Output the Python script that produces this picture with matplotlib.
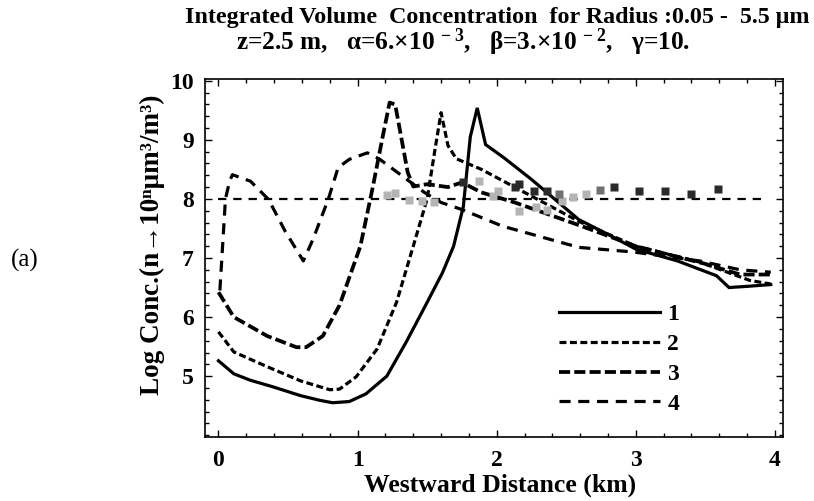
import matplotlib
matplotlib.use("Agg")
import matplotlib.pyplot as plt
from matplotlib.ticker import MultipleLocator

# ---- data ----
x1 = [0.00, 0.11, 0.23, 0.39, 0.59, 0.73, 0.82, 0.94, 1.06, 1.21, 1.35, 1.50, 1.61, 1.69, 1.76, 1.81, 1.86, 1.92, 2.05, 2.25, 2.59, 2.80, 3.00, 3.30, 3.58, 3.67, 3.80, 3.97]
y1 = [5.26, 5.04, 4.93, 4.82, 4.67, 4.59, 4.55, 4.57, 4.70, 5.00, 5.58, 6.25, 6.75, 7.20, 7.87, 9.05, 9.54, 8.92, 8.70, 8.33, 7.65, 7.40, 7.15, 6.95, 6.70, 6.50, 6.52, 6.55]

x2 = [0.00, 0.11, 0.35, 0.59, 0.80, 0.87, 0.99, 1.14, 1.28, 1.40, 1.50, 1.56, 1.60, 1.65, 1.71, 1.89, 2.20, 2.59, 3.00, 3.46, 3.82, 3.97]
y2 = [5.75, 5.41, 5.16, 4.92, 4.77, 4.78, 4.99, 5.46, 6.25, 7.20, 8.00, 8.89, 9.46, 8.90, 8.68, 8.50, 8.11, 7.62, 7.20, 6.93, 6.62, 6.56]

x3 = [0.00, 0.11, 0.35, 0.56, 0.63, 0.75, 0.87, 1.02, 1.11, 1.18, 1.23, 1.27, 1.36, 1.40, 1.50, 1.65, 1.75, 1.89, 2.13, 2.37, 2.61, 3.00, 3.50, 3.75, 3.97]
y3 = [6.42, 6.00, 5.68, 5.49, 5.49, 5.68, 6.20, 7.20, 8.21, 9.05, 9.63, 9.60, 8.45, 8.21, 8.25, 8.20, 8.28, 8.11, 7.94, 7.74, 7.54, 7.20, 6.90, 6.72, 6.72]

x4 = [0.01, 0.05, 0.08, 0.10, 0.23, 0.36, 0.48, 0.61, 0.68, 0.79, 0.86, 0.94, 1.07, 1.16, 1.48, 1.60, 1.75, 2.04, 2.59, 2.99, 3.46, 3.75, 3.97]
y4 = [6.45, 8.00, 8.30, 8.41, 8.30, 7.99, 7.45, 6.95, 7.32, 8.00, 8.53, 8.67, 8.78, 8.67, 8.11, 7.94, 7.82, 7.54, 7.18, 7.10, 6.95, 6.80, 6.76]

# observed points (squares)
xl = [1.21, 1.27, 1.37, 1.46, 1.55, 1.87, 1.97, 2.01, 2.16, 2.28, 2.36, 2.47, 2.55, 2.64]
yl = [8.06, 8.10, 7.98, 7.97, 7.95, 8.30, 8.05, 8.13, 7.79, 7.87, 7.82, 7.97, 8.03, 8.08]
xm = [2.45, 2.74]
ym = [8.08, 8.15]
xd = [1.76, 2.13, 2.16, 2.27, 2.36, 2.84, 3.02, 3.21, 3.40, 3.59]
yd = [8.28, 8.20, 8.25, 8.13, 8.13, 8.20, 8.13, 8.13, 8.08, 8.16]

ref_x = [0.0, 3.9]
ref_y = [8.0, 8.0]

labels = ["1", "2", "3", "4"]
xticks = [0, 1, 2, 3, 4]
yticks = [5, 6, 7, 8, 9, 10]

# ---- style ----
serif = ["Liberation Serif", "DejaVu Serif"]
plt.rcParams["font.family"] = serif
plt.rcParams["font.weight"] = "bold"
plt.rcParams["lines.scale_dashes"] = False
plt.rcParams["mathtext.fontset"] = "custom"
plt.rcParams["mathtext.rm"] = "Liberation Serif:bold"
plt.rcParams["mathtext.it"] = "Liberation Serif:bold:italic"
plt.rcParams["mathtext.bf"] = "Liberation Serif:bold"
plt.rcParams["mathtext.default"] = "rm"

fig = plt.figure(figsize=(8.14, 5.01), dpi=100)
ax = fig.add_axes([205/814, 1-437/501, (783-205)/814, (437-79)/501])

lw = 2.3
ax.plot(x1, y1, color="black", lw=lw, solid_joinstyle="miter", label=labels[0])
ax.plot(x2, y2, color="black", lw=lw, dashes=(5, 2.5), label=labels[1])
ax.plot(x3, y3, color="black", lw=lw + 0.4, dashes=(8, 3), label=labels[2])
ax.plot(x4, y4, color="black", lw=lw, dashes=(8, 5.5), label=labels[3])

ax.plot(ref_x, ref_y, color="black", lw=1.6, dashes=(6, 5))

ax.plot(xl, yl, ls="none", marker="s", ms=6, color="#b4b4b4", mec="none")
ax.plot(xm, ym, ls="none", marker="s", ms=6, color="#707070", mec="none")
ax.plot(xd, yd, ls="none", marker="s", ms=6, color="#2a2a2a", mec="none")

ax.set_xlim(-0.097, 4.058)
ax.set_ylim(3.97, 10.03)
ax.set_xticks(xticks)
ax.set_yticks(yticks)
ax.xaxis.set_minor_locator(MultipleLocator(0.2))
ax.yaxis.set_minor_locator(MultipleLocator(0.2))
ax.tick_params(which="both", direction="in", top=True, right=True, labelsize=17, width=1)
ax.tick_params(which="major", length=5)
ax.tick_params(which="minor", length=3)
ax.tick_params(axis="x", pad=9)
ax.tick_params(axis="y", pad=8)
for lab in ax.get_xticklabels() + ax.get_yticklabels():
    lab.set_fontweight("bold")
for s in ax.spines.values():
    s.set_linewidth(1.2)

ax.set_xlabel("Westward Distance (km)", fontsize=18.5, fontweight="bold")
ax.xaxis.set_label_coords((500-205)/578, -(474-437)/358)
ax.set_ylabel("Log Conc.(n→10ⁿμm³/m³)", fontsize=19.5, fontweight="bold")
ax.yaxis.set_label_coords(-(205-165)/578, (437-245)/358)

leg = ax.legend(loc="upper left", bbox_to_anchor=(0.612, 0.372), frameon=False,
                fontsize=17, handlelength=4.3, handletextpad=0.3, labelspacing=0.35,
                borderaxespad=0, borderpad=0)
for t in leg.get_texts():
    t.set_fontweight("bold")

fig.text(497/814, 1-18/501, "Integrated Volume  Concentration  for Radius :0.05 -  5.5 μm",
         ha="center", va="center", fontsize=17.3, fontweight="bold")
fig.text(463/814, 1-42/501, r"z=2.5 m,   α=6.×10 $^{-\;3}$,   β=3.×10 $^{-\;2}$,   γ=10.",
         ha="center", va="center", fontsize=18.3, fontweight="bold")
fig.text(25/814, 1-260/501, "(a)", ha="center", va="center", fontsize=18, fontweight="normal")

fig.savefig("out.png", dpi=100)
